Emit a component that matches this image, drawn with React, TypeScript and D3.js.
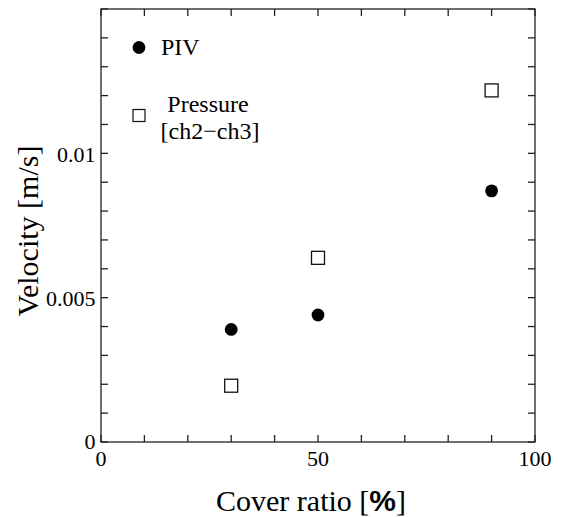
import React, { useEffect, useRef } from "react";
import * as d3 from "d3";

// cover ratio [%] for each measurement
const coverRatio = [30, 50, 90];
// PIV velocity [m/s]
const pivVelocity = [0.0039, 0.0044, 0.0087];
// pressure based velocity (ch2-ch3) [m/s]
const pressureVelocity = [0.00195, 0.00638, 0.01218];

const xTickLabels = [0, 50, 100];
const yTickLabels = [0, 0.005, 0.01];

const App = () => {
  const ref = useRef(null);

  useEffect(() => {
    const width = 561;
    const height = 517;
    const serif = "'Liberation Serif', 'Times New Roman', serif";

    const svg = d3.select(ref.current);
    svg.selectAll("*").remove();
    svg.attr("width", width).attr("height", height);

    const x = d3.scaleLinear().domain([0, 100]).range([101, 535]);
    const y = d3.scaleLinear().domain([0, 0.015]).range([442, 9]);

    const frame = svg.append("g").attr("stroke", "#222").attr("stroke-width", 1.3);

    // ticks on all four sides, pointing inward
    const xTicks = d3.range(0, 101, 10);
    const yTicks = d3.range(0, 16).map((d) => d * 0.001);
    const tl = 7;

    frame.selectAll(".xb").data(xTicks).join("line")
      .attr("x1", (d) => x(d)).attr("x2", (d) => x(d))
      .attr("y1", y(0)).attr("y2", y(0) - tl);
    frame.selectAll(".xt").data(xTicks).join("line")
      .attr("x1", (d) => x(d)).attr("x2", (d) => x(d))
      .attr("y1", y(0.015)).attr("y2", y(0.015) + tl);
    frame.selectAll(".yl").data(yTicks).join("line")
      .attr("x1", x(0)).attr("x2", x(0) + tl)
      .attr("y1", (d) => y(d)).attr("y2", (d) => y(d));
    frame.selectAll(".yr").data(yTicks).join("line")
      .attr("x1", x(100)).attr("x2", x(100) - tl)
      .attr("y1", (d) => y(d)).attr("y2", (d) => y(d));

    frame.append("rect")
      .attr("x", x(0)).attr("y", y(0.015))
      .attr("width", x(100) - x(0)).attr("height", y(0) - y(0.015))
      .attr("fill", "none");

    // tick labels
    svg.append("g").selectAll("text").data(xTickLabels).join("text")
      .attr("x", (d) => x(d)).attr("y", y(0) + 24)
      .attr("text-anchor", "middle")
      .attr("font-family", serif).attr("font-size", 22)
      .text((d) => d);

    svg.append("g").selectAll("text").data(yTickLabels).join("text")
      .attr("x", x(0) - 5.5).attr("y", (d) => y(d) + (d === 0 ? 6.5 : 8.5))
      .attr("text-anchor", "end")
      .attr("font-family", serif).attr("font-size", 22)
      .text((d) => (d === 0 ? "0" : String(d)));

    // axis titles
    const xt = svg.append("text")
      .attr("x", 311).attr("y", 511)
      .attr("text-anchor", "middle")
      .attr("font-family", serif).attr("font-size", 30);
    xt.append("tspan").text("Cover ratio [");
    xt.append("tspan")
      .attr("font-family", "'Liberation Sans', Arial, sans-serif")
      .attr("font-weight", "bold")
      .text("%");
    xt.append("tspan").text("]");

    svg.append("text")
      .attr("transform", "translate(38,231) rotate(-90)")
      .attr("text-anchor", "middle")
      .attr("font-family", serif).attr("font-size", 30)
      .text("Velocity [m/s]");

    // data
    const pts = coverRatio.map((c, i) => ({ c, piv: pivVelocity[i], p: pressureVelocity[i] }));
    const s = 13;

    svg.append("g").selectAll("circle").data(pts).join("circle")
      .attr("cx", (d) => x(d.c)).attr("cy", (d) => y(d.piv))
      .attr("r", 6.4).attr("fill", "#000");

    svg.append("g").selectAll("rect").data(pts).join("rect")
      .attr("x", (d) => x(d.c) - s / 2).attr("y", (d) => y(d.p) - s / 2)
      .attr("width", s).attr("height", s)
      .attr("fill", "#fff").attr("stroke", "#111").attr("stroke-width", 1.3);

    // legend
    const lg = svg.append("g");
    lg.append("circle").attr("cx", 139).attr("cy", 47.5).attr("r", 6.4).attr("fill", "#000");
    lg.append("text").attr("x", 161).attr("y", 55)
      .attr("font-family", serif).attr("font-size", 24).text("PIV");
    lg.append("rect").attr("x", 139 - 6).attr("y", 115.5 - 6).attr("width", 12).attr("height", 12)
      .attr("fill", "#fff").attr("stroke", "#111").attr("stroke-width", 1.2);
    lg.append("text").attr("x", 208).attr("y", 112)
      .attr("text-anchor", "middle")
      .attr("font-family", serif).attr("font-size", 24).text("Pressure");
    lg.append("text").attr("x", 210).attr("y", 139)
      .attr("text-anchor", "middle")
      .attr("font-family", serif).attr("font-size", 24).text("[ch2\u2212ch3]");
  }, []);

  return (
    <svg
      ref={ref}
      style={{ position: "absolute", left: 0, top: 0, background: "#fff" }}
    />
  );
};

export default App;
